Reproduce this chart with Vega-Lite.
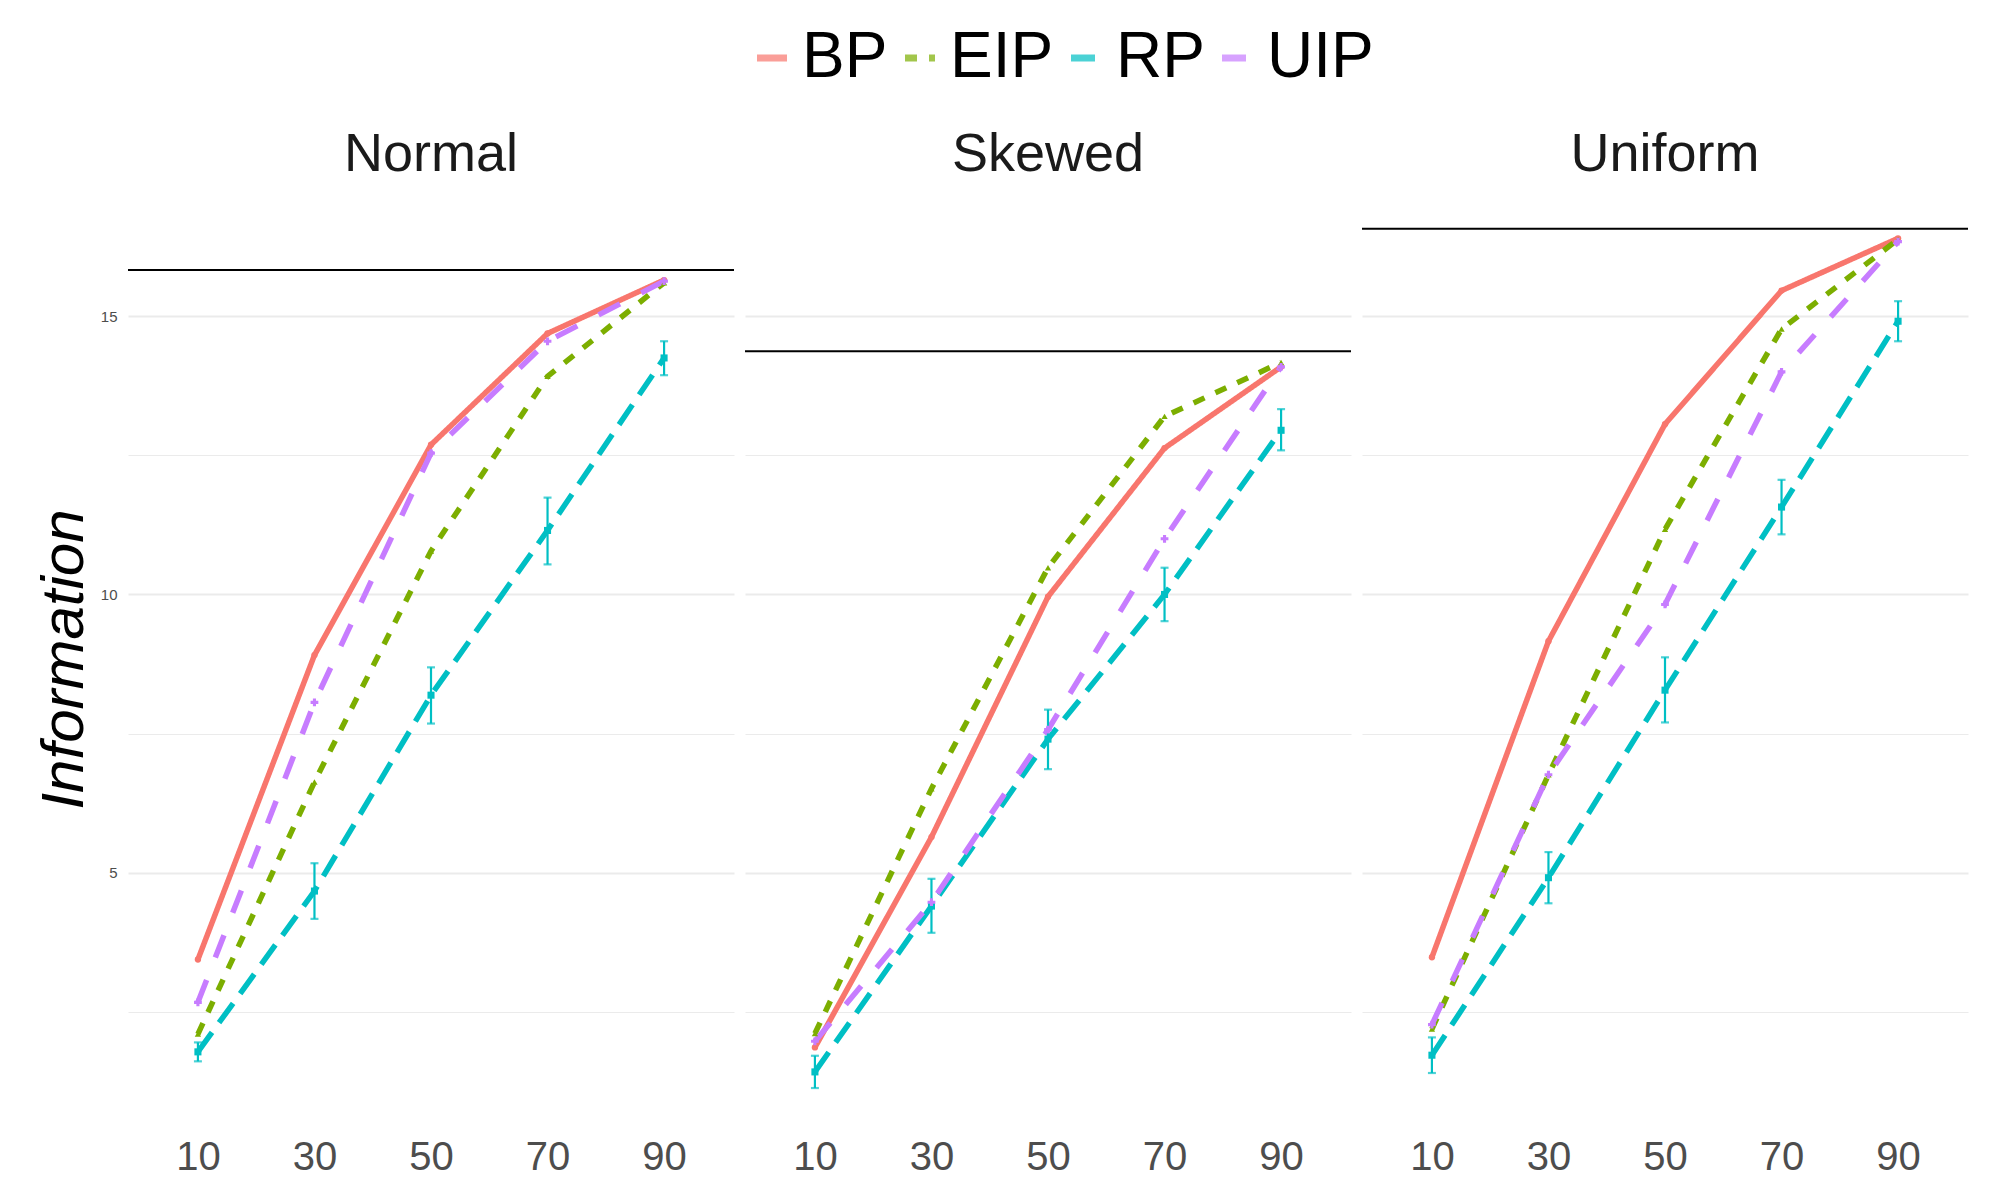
{
  "$schema": "https://vega.github.io/schema/vega-lite/v6.json",
  "background": "white",
  "padding": {"left": 34, "top": 26, "right": 27, "bottom": 8},
  "data": {
    "values": [
      {"d": "Normal", "k": "est", "m": "BP", "x": "10", "v": 3.44},
      {"d": "Normal", "k": "est", "m": "BP", "x": "30", "v": 8.91},
      {"d": "Normal", "k": "est", "m": "BP", "x": "50", "v": 12.69},
      {"d": "Normal", "k": "est", "m": "BP", "x": "70", "v": 14.69},
      {"d": "Normal", "k": "est", "m": "BP", "x": "90", "v": 15.65},
      {"d": "Normal", "k": "est", "m": "EIP", "x": "10", "v": 2.10},
      {"d": "Normal", "k": "est", "m": "EIP", "x": "30", "v": 6.63},
      {"d": "Normal", "k": "est", "m": "EIP", "x": "50", "v": 10.78},
      {"d": "Normal", "k": "est", "m": "EIP", "x": "70", "v": 13.92},
      {"d": "Normal", "k": "est", "m": "EIP", "x": "90", "v": 15.60},
      {"d": "Normal", "k": "est", "m": "RP", "x": "10", "v": 1.78, "lo": 1.61, "hi": 1.95},
      {"d": "Normal", "k": "est", "m": "RP", "x": "30", "v": 4.67, "lo": 4.17, "hi": 5.17},
      {"d": "Normal", "k": "est", "m": "RP", "x": "50", "v": 8.19, "lo": 7.68, "hi": 8.69},
      {"d": "Normal", "k": "est", "m": "RP", "x": "70", "v": 11.15, "lo": 10.54, "hi": 11.74},
      {"d": "Normal", "k": "est", "m": "RP", "x": "90", "v": 14.25, "lo": 13.94, "hi": 14.55},
      {"d": "Normal", "k": "est", "m": "UIP", "x": "10", "v": 2.67},
      {"d": "Normal", "k": "est", "m": "UIP", "x": "30", "v": 8.06},
      {"d": "Normal", "k": "est", "m": "UIP", "x": "50", "v": 12.54},
      {"d": "Normal", "k": "est", "m": "UIP", "x": "70", "v": 14.55},
      {"d": "Normal", "k": "est", "m": "UIP", "x": "90", "v": 15.63},
      {"d": "Normal", "k": "ref", "v": 15.83},
      {"d": "Skewed", "k": "est", "m": "BP", "x": "10", "v": 1.86},
      {"d": "Skewed", "k": "est", "m": "BP", "x": "30", "v": 5.64},
      {"d": "Skewed", "k": "est", "m": "BP", "x": "50", "v": 9.96},
      {"d": "Skewed", "k": "est", "m": "BP", "x": "70", "v": 12.63},
      {"d": "Skewed", "k": "est", "m": "BP", "x": "90", "v": 14.09},
      {"d": "Skewed", "k": "est", "m": "EIP", "x": "10", "v": 2.11},
      {"d": "Skewed", "k": "est", "m": "EIP", "x": "30", "v": 6.51},
      {"d": "Skewed", "k": "est", "m": "EIP", "x": "50", "v": 10.48},
      {"d": "Skewed", "k": "est", "m": "EIP", "x": "70", "v": 13.20},
      {"d": "Skewed", "k": "est", "m": "EIP", "x": "90", "v": 14.17},
      {"d": "Skewed", "k": "est", "m": "RP", "x": "10", "v": 1.42, "lo": 1.13, "hi": 1.71},
      {"d": "Skewed", "k": "est", "m": "RP", "x": "30", "v": 4.40, "lo": 3.92, "hi": 4.89},
      {"d": "Skewed", "k": "est", "m": "RP", "x": "50", "v": 7.40, "lo": 6.86, "hi": 7.93},
      {"d": "Skewed", "k": "est", "m": "RP", "x": "70", "v": 10.00, "lo": 9.52, "hi": 10.48},
      {"d": "Skewed", "k": "est", "m": "RP", "x": "90", "v": 12.95, "lo": 12.59, "hi": 13.33},
      {"d": "Skewed", "k": "est", "m": "UIP", "x": "10", "v": 1.97},
      {"d": "Skewed", "k": "est", "m": "UIP", "x": "30", "v": 4.47},
      {"d": "Skewed", "k": "est", "m": "UIP", "x": "50", "v": 7.57},
      {"d": "Skewed", "k": "est", "m": "UIP", "x": "70", "v": 11.00},
      {"d": "Skewed", "k": "est", "m": "UIP", "x": "90", "v": 14.09},
      {"d": "Skewed", "k": "ref", "v": 14.37},
      {"d": "Uniform", "k": "est", "m": "BP", "x": "10", "v": 3.48},
      {"d": "Uniform", "k": "est", "m": "BP", "x": "30", "v": 9.16},
      {"d": "Uniform", "k": "est", "m": "BP", "x": "50", "v": 13.06},
      {"d": "Uniform", "k": "est", "m": "BP", "x": "70", "v": 15.46},
      {"d": "Uniform", "k": "est", "m": "BP", "x": "90", "v": 16.40},
      {"d": "Uniform", "k": "est", "m": "EIP", "x": "10", "v": 2.19},
      {"d": "Uniform", "k": "est", "m": "EIP", "x": "30", "v": 6.76},
      {"d": "Uniform", "k": "est", "m": "EIP", "x": "50", "v": 11.17},
      {"d": "Uniform", "k": "est", "m": "EIP", "x": "70", "v": 14.77},
      {"d": "Uniform", "k": "est", "m": "EIP", "x": "90", "v": 16.38},
      {"d": "Uniform", "k": "est", "m": "RP", "x": "10", "v": 1.72, "lo": 1.40, "hi": 2.04},
      {"d": "Uniform", "k": "est", "m": "RP", "x": "30", "v": 4.91, "lo": 4.45, "hi": 5.37},
      {"d": "Uniform", "k": "est", "m": "RP", "x": "50", "v": 8.28, "lo": 7.70, "hi": 8.87},
      {"d": "Uniform", "k": "est", "m": "RP", "x": "70", "v": 11.57, "lo": 11.08, "hi": 12.06},
      {"d": "Uniform", "k": "est", "m": "RP", "x": "90", "v": 14.91, "lo": 14.55, "hi": 15.27},
      {"d": "Uniform", "k": "est", "m": "UIP", "x": "10", "v": 2.27},
      {"d": "Uniform", "k": "est", "m": "UIP", "x": "30", "v": 6.76},
      {"d": "Uniform", "k": "est", "m": "UIP", "x": "50", "v": 9.82},
      {"d": "Uniform", "k": "est", "m": "UIP", "x": "70", "v": 14.00},
      {"d": "Uniform", "k": "est", "m": "UIP", "x": "90", "v": 16.34},
      {"d": "Uniform", "k": "ref", "v": 16.57}
    ]
  },
  "facet": {
    "column": {
      "field": "d",
      "type": "nominal",
      "sort": ["Normal", "Skewed", "Uniform"],
      "header": {
        "title": null,
        "labelFontSize": 54,
        "labelColor": "#1a1a1a",
        "labelFont": "Liberation Sans",
        "labelPadding": 4
      }
    }
  },
  "spacing": 9,
  "spec": {
    "width": 606,
    "height": 946,
    "encoding": {
      "y": {
        "type": "quantitative",
        "scale": {"domain": [0.34, 17.34], "nice": false, "zero": false},
        "axis": {
          "title": "Information",
          "titleFont": "Liberation Sans",
          "titleFontSize": 60,
          "titleFontStyle": "italic",
          "titleFontWeight": "normal",
          "titleColor": "#000000",
          "titlePadding": 5,
          "values": [2.5, 5, 7.5, 10, 12.5, 15],
          "labelExpr": "datum.value % 5 === 0 ? datum.label : ''",
          "labelFontSize": 15,
          "labelColor": "#4d4d4d",
          "labelPadding": 10,
          "gridColor": "#ebebeb",
          "gridWidth": {"condition": {"test": "datum.value % 5 === 0", "value": 2}, "value": 1.2}
        }
      }
    },
    "layer": [
      {
        "transform": [{"filter": "datum.k === 'est'"}],
        "mark": {"type": "line", "strokeWidth": 5.5, "strokeCap": "butt"},
        "encoding": {
          "x": {
            "field": "x",
            "type": "ordinal",
            "sort": ["10", "30", "50", "70", "90"],
            "scale": {"type": "point", "padding": 0.6},
            "axis": {
              "title": null,
              "labelFontSize": 40,
              "labelColor": "#4d4d4d",
              "labelPadding": 5,
              "labelAngle": 0,
              "gridColor": "#ebebeb",
              "gridWidth": 2
            }
          },
          "y": {"field": "v"},
          "color": {
            "field": "m",
            "type": "nominal",
            "scale": {"domain": ["BP", "EIP", "RP", "UIP"], "range": ["#F8766D", "#7CAE00", "#00BFC4", "#C77CFF"]},
            "legend": {
              "title": null,
              "orient": "none",
              "legendX": 612,
              "legendY": -160,
              "direction": "horizontal",
              "labelFontSize": 64,
              "labelFont": "Liberation Sans",
              "labelColor": "#000000",
              "symbolType": "stroke",
              "symbolSize": 900,
              "symbolStrokeWidth": 7,
              "labelOffset": -2,
              "columnPadding": 0
            }
          },
          "strokeDash": {
            "field": "m",
            "type": "nominal",
            "scale": {"domain": ["BP", "EIP", "RP", "UIP"], "range": [[1, 0], [12, 12], [24, 12], [24, 24]]},
            "legend": {
              "title": null,
              "orient": "none",
              "legendX": 612,
              "legendY": -160,
              "direction": "horizontal",
              "labelFontSize": 64,
              "labelFont": "Liberation Sans",
              "labelColor": "#000000",
              "symbolType": "stroke",
              "symbolSize": 900,
              "symbolStrokeWidth": 7,
              "labelOffset": -2,
              "columnPadding": 0
            }
          }
        }
      },
      {
        "transform": [{"filter": "datum.k === 'est' && datum.m === 'RP'"}],
        "mark": {"type": "rule", "strokeWidth": 2.2},
        "encoding": {
          "x": {"field": "x", "type": "ordinal", "sort": ["10", "30", "50", "70", "90"]},
          "y": {"field": "lo"},
          "y2": {"field": "hi"},
          "color": {"field": "m", "type": "nominal"}
        }
      },
      {
        "transform": [{"filter": "datum.k === 'est' && datum.m === 'RP'"}],
        "mark": {"type": "tick", "thickness": 2.2, "size": 8, "orient": "horizontal"},
        "encoding": {
          "x": {"field": "x", "type": "ordinal", "sort": ["10", "30", "50", "70", "90"]},
          "y": {"field": "lo"},
          "color": {"field": "m", "type": "nominal"}
        }
      },
      {
        "transform": [{"filter": "datum.k === 'est' && datum.m === 'RP'"}],
        "mark": {"type": "tick", "thickness": 2.2, "size": 8, "orient": "horizontal"},
        "encoding": {
          "x": {"field": "x", "type": "ordinal", "sort": ["10", "30", "50", "70", "90"]},
          "y": {"field": "hi"},
          "color": {"field": "m", "type": "nominal"}
        }
      },
      {
        "transform": [{"filter": "datum.k === 'est' && datum.m === 'BP'"}],
        "mark": {"type": "point", "filled": true, "opacity": 1, "size": 40, "shape": "circle", "color": "#F8766D"},
        "encoding": {
          "x": {"field": "x", "type": "ordinal", "sort": ["10", "30", "50", "70", "90"]},
          "y": {"field": "v"}
        }
      },
      {
        "transform": [{"filter": "datum.k === 'est' && datum.m === 'EIP'"}],
        "mark": {"type": "point", "filled": true, "opacity": 1, "size": 40, "shape": "triangle-up", "color": "#7CAE00"},
        "encoding": {
          "x": {"field": "x", "type": "ordinal", "sort": ["10", "30", "50", "70", "90"]},
          "y": {"field": "v"}
        }
      },
      {
        "transform": [{"filter": "datum.k === 'est' && datum.m === 'RP'"}],
        "mark": {"type": "point", "filled": true, "opacity": 1, "size": 50, "shape": "square", "color": "#00BFC4"},
        "encoding": {
          "x": {"field": "x", "type": "ordinal", "sort": ["10", "30", "50", "70", "90"]},
          "y": {"field": "v"}
        }
      },
      {
        "transform": [{"filter": "datum.k === 'est' && datum.m === 'UIP'"}],
        "mark": {"type": "point", "filled": true, "opacity": 1, "size": 60, "shape": "cross", "color": "#C77CFF"},
        "encoding": {
          "x": {"field": "x", "type": "ordinal", "sort": ["10", "30", "50", "70", "90"]},
          "y": {"field": "v"}
        }
      },
      {
        "transform": [{"filter": "datum.k === 'ref'"}],
        "mark": {"type": "rule", "color": "#000000", "strokeWidth": 2},
        "encoding": {
          "y": {"field": "v"}
        }
      }
    ]
  },
  "config": {
    "view": {"stroke": null},
    "axis": {"domain": false, "ticks": false, "labelFont": "Liberation Sans"},
    "font": "Liberation Sans"
  }
}
